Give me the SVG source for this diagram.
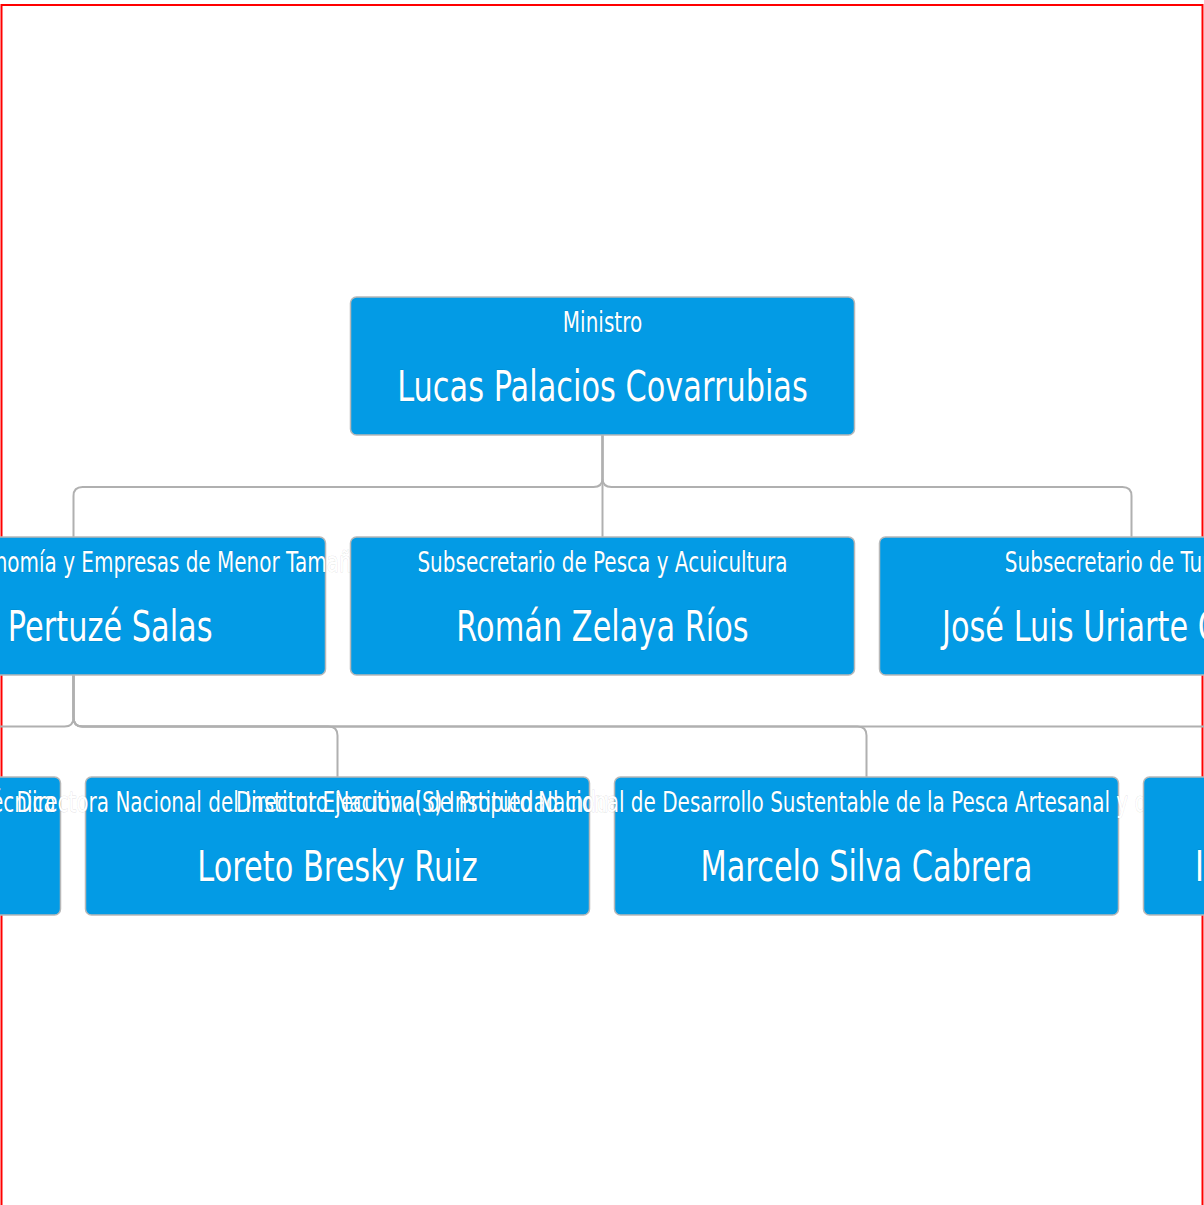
<svg xmlns="http://www.w3.org/2000/svg" width="1204" height="1205" viewBox="0 0 1204 1205">
<style>
.node{fill:#039be5;stroke:#b8b8b8;stroke-width:1.5}
.ttl{font-family:"DejaVu Sans",sans-serif;font-size:20px;fill:#fff;text-anchor:middle;stroke:#000;stroke-opacity:0.12;stroke-width:0.8;paint-order:stroke}
.nm{font-family:"DejaVu Sans",sans-serif;font-size:30.4px;fill:#fff;text-anchor:middle;stroke:#000;stroke-opacity:0.12;stroke-width:0.8;paint-order:stroke}
.con{fill:none;stroke:#b0b0b0;stroke-width:2}
</style>
<rect width="1204" height="1205" fill="#fff"/>
<rect x="1.5" y="5" width="1201" height="1212" fill="none" stroke="#f00" stroke-width="2"/>
<g id="connectors">
<path class="con" d="M602.5 435V478Q602.5 487 593.5 487H82.5Q73.5 487 73.5 496V537"/>
<path class="con" d="M602.5 435V537"/>
<path class="con" d="M602.5 435V478Q602.5 487 611.5 487H1122.5Q1131.5 487 1131.5 496V537"/>
<path class="con" d="M73.5 675V717.5Q73.5 726.5 64.5 726.5H-182.5Q-191.5 726.5 -191.5 735.5V777"/>
<path class="con" d="M73.5 675V717.5Q73.5 726.5 82.5 726.5H328.5Q337.5 726.5 337.5 735.5V777"/>
<path class="con" d="M73.5 675V717.5Q73.5 726.5 82.5 726.5H857.5Q866.5 726.5 866.5 735.5V777"/>
<path class="con" d="M73.5 675V717.5Q73.5 726.5 82.5 726.5H1386.5Q1395.5 726.5 1395.5 735.5V777"/>
</g>
<g id="ministro">
<rect class="node" x="350.5" y="297" width="504" height="138" rx="6"/>
<text class="ttl" transform="translate(602.5 332) scale(1 1.375)">Ministro</text>
<text class="nm" transform="translate(602.5 400.5) scale(1 1.375)">Lucas Palacios Covarrubias</text>
</g>
<g id="sub-economia">
<rect class="node" x="-178.5" y="537" width="504" height="138" rx="6"/>
<text class="ttl" transform="translate(73.5 572) scale(1 1.375)">Subsecretario de Economía y Empresas de Menor Tamaño</text>
<text class="nm" transform="translate(73.5 640.5) scale(1 1.375)">Julio Pertuzé Salas</text>
</g>
<g id="sub-pesca">
<rect class="node" x="350.5" y="537" width="504" height="138" rx="6"/>
<text class="ttl" transform="translate(602.5 572) scale(1 1.375)">Subsecretario de Pesca y Acuicultura</text>
<text class="nm" transform="translate(602.5 640.5) scale(1 1.375)">Román Zelaya Ríos</text>
</g>
<g id="sub-turismo">
<rect class="node" x="879.5" y="537" width="504" height="138" rx="6"/>
<text class="ttl" transform="translate(1131.5 572) scale(1 1.375)">Subsecretario de Turismo</text>
<text class="nm" transform="translate(1131.5 640.5) scale(1 1.375)">José Luis Uriarte Campos</text>
</g>
<g id="sercotec">
<rect class="node" x="-443.5" y="777" width="504" height="138" rx="6"/>
<text class="ttl" transform="translate(-191.5 812) scale(1 1.375)">Gerente General Servicio de Cooperación Técnica</text>
</g>
<g id="inapi">
<rect class="node" x="85.5" y="777" width="504" height="138" rx="6"/>
<text class="ttl" transform="translate(337.5 812) scale(1 1.375)">Directora Nacional del Instituto Nacional de Propiedad Industrial</text>
<text class="nm" transform="translate(337.5 880.5) scale(1 1.375)">Loreto Bresky Ruiz</text>
</g>
<g id="indespa">
<rect class="node" x="614.5" y="777" width="504" height="138" rx="6"/>
<text class="ttl" transform="translate(866.5 812) scale(1 1.375)">Director Ejecutivo(S) Instituto Nacional de Desarrollo Sustentable de la Pesca Artesanal y de la Acuicultura de Pequeña Escala</text>
<text class="nm" transform="translate(866.5 880.5) scale(1 1.375)">Marcelo Silva Cabrera</text>
</g>
<g id="node-4">
<rect class="node" x="1143.5" y="777" width="504" height="138" rx="6"/>
<text class="nm" style="text-anchor:start" transform="translate(1195 880.5) scale(1 1.375)">I</text>
</g>
</svg>
